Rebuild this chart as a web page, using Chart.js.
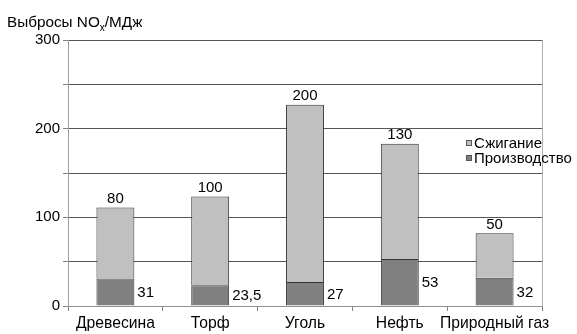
<!DOCTYPE html>
<html>
<head>
<meta charset="utf-8">
<script src="https://cdn.jsdelivr.net/npm/chart.js@4.4.1/dist/chart.umd.min.js"></script>
<style>
  html, body { margin: 0; padding: 0; background: #fff; }
  #wrap { width: 577px; height: 334px; }
</style>
</head>
<body>
<div id="wrap"><canvas id="emissionsChart" width="577" height="334"></canvas></div>
<script>
const categories = ['Древесина', 'Торф', 'Уголь', 'Нефть', 'Природный газ'];
const production = [31, 23.5, 27, 53, 32];
const combustion = [80, 100, 200, 130, 50];
const yTicks = [0, 100, 200, 300];

const FONT = '"Liberation Sans", Arial, sans-serif';

function fmt(v) {
    return String(v).replace('.', ',');
}

// value labels, title and legend drawn by hand
const extrasPlugin = {
    id: 'extras',
    afterDatasetsDraw(chart) {
        const ctx = chart.ctx;
        ctx.save();
        ctx.font = '15px ' + FONT;
        ctx.fillStyle = '#000';

        // production labels, right of bar, middle of segment
        const prodMeta = chart.getDatasetMeta(0);
        prodMeta.data.forEach((bar, i) => {
            ctx.textAlign = 'left';
            ctx.textBaseline = 'middle';
            ctx.fillText(fmt(production[i]), bar.x + bar.width / 2 + 3, (bar.y + bar.base) / 2 + 1);
        });

        // combustion labels above the stack
        const combMeta = chart.getDatasetMeta(1);
        combMeta.data.forEach((bar, i) => {
            ctx.textAlign = 'center';
            ctx.textBaseline = 'bottom';
            ctx.fillText(fmt(combustion[i]), bar.x, bar.y - 1);
        });

        // title with subscript
        ctx.textAlign = 'left';
        ctx.textBaseline = 'alphabetic';
        ctx.font = '15.3px ' + FONT;
        let x = 7;
        const y = 27;
        const part1 = 'Выбросы NO';
        ctx.fillText(part1, x, y);
        x += ctx.measureText(part1).width;
        ctx.font = '10px ' + FONT;
        ctx.fillText('x', x, y + 4);
        x += ctx.measureText('x').width;
        ctx.font = '15.3px ' + FONT;
        ctx.fillText('/МДж', x, y);

        // legend
        ctx.font = '15px ' + FONT;
        const items = [
            { label: chart.data.datasets[1].label, color: chart.data.datasets[1].backgroundColor },
            { label: chart.data.datasets[0].label, color: chart.data.datasets[0].backgroundColor }
        ];
        items.forEach((it, k) => {
            const ly = 143 + k * 15;
            ctx.fillStyle = it.color;
            ctx.fillRect(466, ly - 3, 6, 6);
            ctx.strokeStyle = '#555';
            ctx.lineWidth = 1;
            ctx.strokeRect(466.5, ly - 2.5, 5, 5);
            ctx.fillStyle = '#000';
            ctx.textBaseline = 'middle';
            ctx.fillText(it.label, 474, ly + 1);
        });
        ctx.restore();
    }
};

// light frame on the right side of the plot
const framePlugin = {
    id: 'frame',
    beforeDatasetsDraw(chart) {
        const a = chart.chartArea;
        const ctx = chart.ctx;
        ctx.save();
        ctx.strokeStyle = '#b0b0b0';
        ctx.lineWidth = 1;
        ctx.beginPath();
        ctx.moveTo(Math.round(a.right) + 0.5, a.top);
        ctx.lineTo(Math.round(a.right) + 0.5, a.bottom);
        ctx.stroke();
        ctx.restore();
    }
};

const ctx = document.getElementById('emissionsChart').getContext('2d');
new Chart(ctx, {
    type: 'bar',
    data: {
        labels: categories,
        datasets: [
            {
                label: 'Производство',
                data: production,
                backgroundColor: '#808080',
                borderColor: '#333333',
                borderWidth: 1,
                barPercentage: 0.4,
                categoryPercentage: 1
            },
            {
                label: 'Сжигание',
                data: combustion,
                backgroundColor: '#c0c0c0',
                borderColor: '#333333',
                borderWidth: 1,
                barPercentage: 0.4,
                categoryPercentage: 1
            }
        ]
    },
    options: {
        responsive: false,
        animation: false,
        layout: { padding: { left: 0, right: 35, top: 40, bottom: 0 } },
        plugins: {
            legend: { display: false },
            tooltip: { enabled: false }
        },
        scales: {
            x: {
                stacked: true,
                afterFit(scale) { scale.height = 28; },
                grid: {
                    display: true,
                    drawOnChartArea: false,
                    offset: true,
                    tickLength: 5,
                    color: '#808080'
                },
                border: { color: '#909090' },
                ticks: {
                    color: '#000',
                    font: { family: FONT, size: 15.7 },
                    padding: 3,
                    maxRotation: 0,
                    autoSkip: false
                }
            },
            y: {
                stacked: true,
                min: 0,
                max: 300,
                afterFit(scale) { scale.width = 68; },
                grid: {
                    color: '#555555',
                    tickLength: 5,
                    tickColor: '#808080'
                },
                border: { color: '#a0a0a0' },
                ticks: {
                    stepSize: 50,
                    color: '#000',
                    font: { family: FONT, size: 15 },
                    padding: 3,
                    callback: (v) => yTicks.includes(v) ? v : ''
                }
            }
        }
    },
    plugins: [framePlugin, extrasPlugin]
});
</script>
</body>
</html>
